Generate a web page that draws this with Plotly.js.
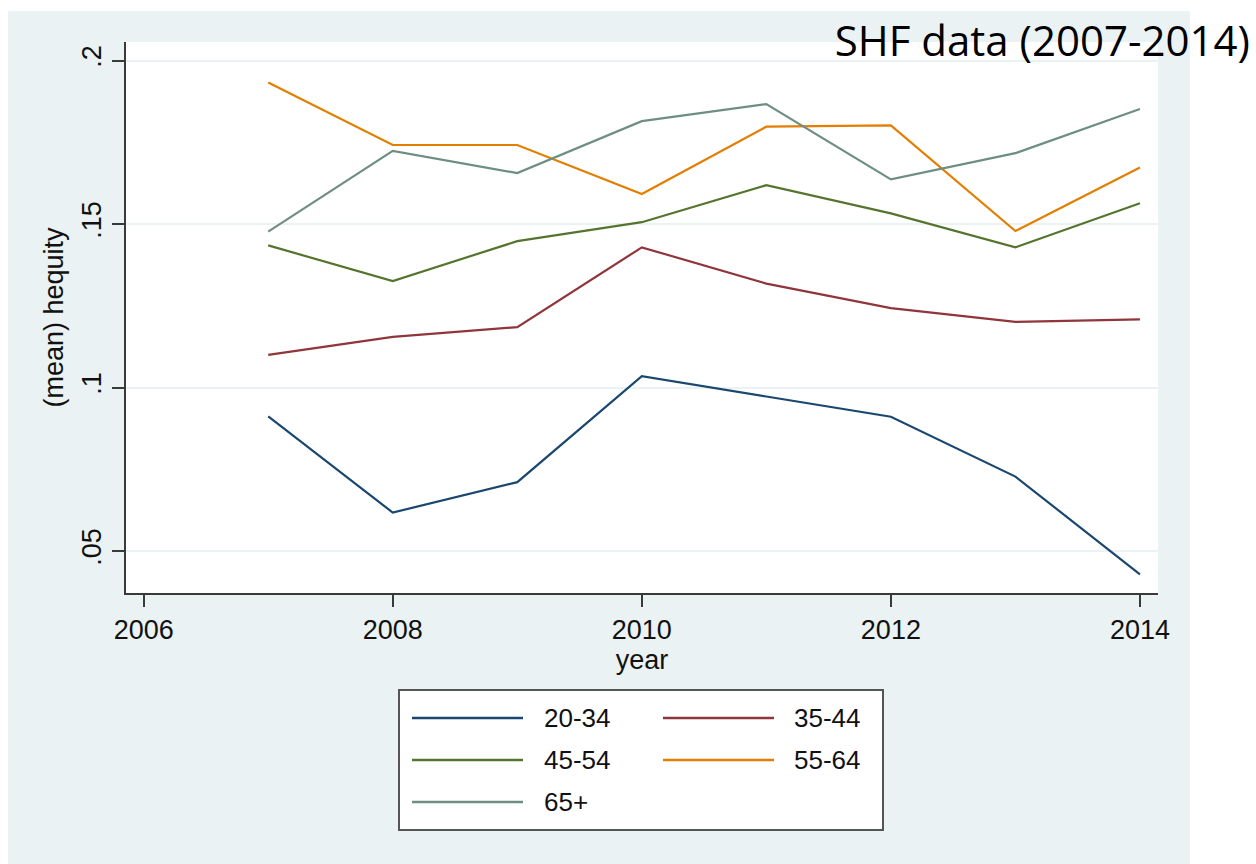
<!DOCTYPE html>
<html>
<head>
<meta charset="utf-8">
<script src="https://cdn.plot.ly/plotly-3.0.1.min.js"></script>
<style>
  html, body { margin: 0; padding: 0; background: #ffffff; }
  #chart { width: 1256px; height: 864px; }
</style>
</head>
<body>
<div id="chart"></div>
<script>
// ---- data ----
const years = [2007, 2008, 2009, 2010, 2011, 2012, 2013, 2014];
const seriesNames = ["20-34", "35-44", "45-54", "55-64", "65+"];
const age20_34 = [0.0912, 0.0618, 0.0711, 0.1035, 0.0973, 0.0911, 0.0728, 0.0429];
const age35_44 = [0.1100, 0.1155, 0.1185, 0.1429, 0.1318, 0.1243, 0.1201, 0.1209];
const age45_54 = [0.1435, 0.1326, 0.1448, 0.1506, 0.1619, 0.1533, 0.1429, 0.1564];
const age55_64 = [0.1933, 0.1742, 0.1742, 0.1592, 0.1798, 0.1802, 0.1479, 0.1673];
const age65plus = [0.1477, 0.1724, 0.1656, 0.1815, 0.1867, 0.1637, 0.1717, 0.1852];
const xTicks = [2006, 2008, 2010, 2012, 2014];
const yTicks = [0.05, 0.1, 0.15, 0.2];
const yTickText = [".05", ".1", ".15", ".2"];

const seriesValues = [age20_34, age35_44, age45_54, age55_64, age65plus];
const colors = ["#1a476f", "#90353b", "#55752f", "#e37e00", "#6e8e84"];

// ---- geometry (pixels) ----
const W = 1256, H = 864;
const L = 126, R = 1158, T = 42, B = 593;
const pw = R - L, ph = B - T;
const px = x => (x - L) / pw;
const py = y => (B - y) / ph;

const FONT = "Liberation Sans, Arial, Helvetica, sans-serif";

const traces = seriesValues.map((vals, i) => ({
  x: years, y: vals, type: "scatter", mode: "lines",
  name: seriesNames[i],
  line: { color: colors[i], width: 2.2 },
  showlegend: false,
  hoverinfo: "x+y+name"
}));

const shapes = [
  // graph region (light blue-grey)
  { type: "rect", xref: "paper", yref: "paper", layer: "below",
    x0: px(8), x1: px(1190), y0: py(864), y1: py(11),
    fillcolor: "#eaf2f3", line: { width: 0 } },
  // plot region (white)
  { type: "rect", xref: "paper", yref: "paper", layer: "below",
    x0: 0, x1: 1, y0: 0, y1: 1,
    fillcolor: "#ffffff", line: { width: 0 } },
  // legend box
  { type: "rect", xref: "paper", yref: "paper", layer: "above",
    x0: px(399), x1: px(883), y0: py(830), y1: py(690),
    fillcolor: "#ffffff", line: { color: "#555555", width: 2 } }
];
const annotations = [];

// custom legend: two columns
const colLineX = [[412, 523], [663, 774]];
const colTextX = [542, 792];
const rowY = [718, 760, 802];
seriesNames.forEach((name, i) => {
  const c = i % 2, r = Math.floor(i / 2);
  shapes.push({ type: "line", xref: "paper", yref: "paper", layer: "above",
    x0: px(colLineX[c][0]), x1: px(colLineX[c][1]),
    y0: py(rowY[r]), y1: py(rowY[r]),
    line: { color: colors[i], width: 2.5 } });
  annotations.push({ xref: "paper", yref: "paper",
    x: px(colTextX[c]), y: py(rowY[r]), xanchor: "left", yanchor: "middle",
    text: name, showarrow: false,
    font: { family: FONT, size: 26, color: "#111111" } });
});

const layout = {
  width: W, height: H,
  paper_bgcolor: "#ffffff",
  plot_bgcolor: "rgba(0,0,0,0)",
  margin: { l: L, r: W - R, t: T, b: H - B, pad: 0 },
  showlegend: false,
  title: {
    text: "SHF data (2007-2014)",
    xref: "container", yref: "container",
    x: 1250 / W, xanchor: "right",
    y: 1 - 41 / H, yanchor: "middle",
    font: { family: "Open Sans, Noto Sans, sans-serif", size: 42, color: "#000000" }
  },
  xaxis: {
    range: [2005.858, 2014.145],
    tickmode: "array", tickvals: xTicks, ticktext: xTicks.map(String),
    showgrid: false, zeroline: false,
    showline: true, linecolor: "#3a3a3a", linewidth: 2,
    ticks: "outside", ticklen: 12, tickwidth: 2, tickcolor: "#3a3a3a",
    tickfont: { family: FONT, size: 27, color: "#111111" },
    title: { text: "year", font: { family: FONT, size: 27, color: "#111111" }, standoff: 6 },
    automargin: false
  },
  yaxis: {
    range: [0.0372, 0.2057],
    tickmode: "array", tickvals: yTicks, ticktext: yTickText,
    tickangle: -90,
    showgrid: true, gridcolor: "#eaf2f3", gridwidth: 2,
    zeroline: false,
    showline: true, linecolor: "#3a3a3a", linewidth: 2,
    ticks: "outside", ticklen: 12, tickwidth: 2, tickcolor: "#3a3a3a",
    tickfont: { family: FONT, size: 27, color: "#111111" },
    title: { text: "(mean) hequity", font: { family: FONT, size: 27, color: "#111111" }, standoff: 6 },
    automargin: false
  },
  shapes: shapes,
  annotations: annotations
};

Plotly.newPlot("chart", traces, layout, { displayModeBar: false, staticPlot: true });
</script>
</body>
</html>
